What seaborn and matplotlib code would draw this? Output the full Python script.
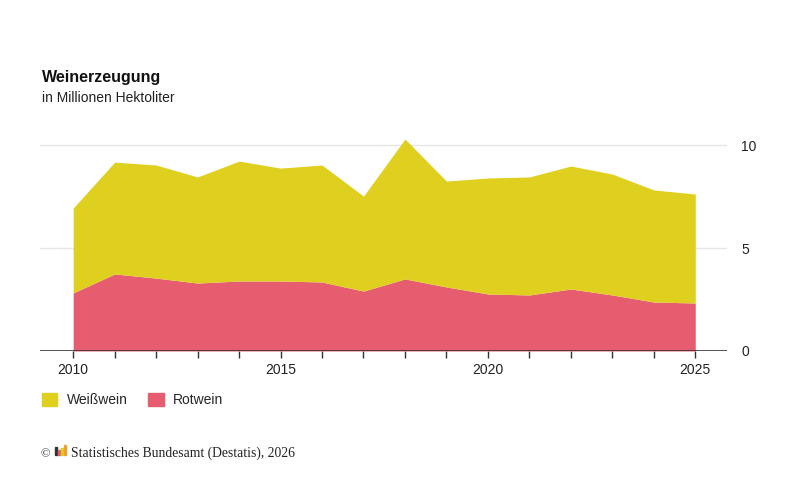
import matplotlib
matplotlib.use('Agg')
import matplotlib.pyplot as plt
import matplotlib.patches as mpatches
import seaborn as sns
import numpy as np

# Wine production in million hectolitres
years = [2010, 2011, 2012, 2013, 2014, 2015, 2016, 2017,
         2018, 2019, 2020, 2021, 2022, 2023, 2024, 2025]
rotwein = [2.82, 3.74, 3.54, 3.30, 3.40, 3.40, 3.35, 2.91,
           3.50, 3.11, 2.77, 2.72, 3.01, 2.72, 2.38, 2.33]
gesamt = [6.94, 9.17, 9.03, 8.45, 9.22, 8.88, 9.03, 7.52,
          10.29, 8.25, 8.40, 8.45, 8.98, 8.59, 7.82, 7.62]
weisswein = [round(g - r, 2) for g, r in zip(gesamt, rotwein)]

series_names = ['Weißwein', 'Rotwein']
x_ticks = [2010, 2015, 2020, 2025]
y_ticks = [0, 5, 10]

yellow = '#DFCF1E'
red = '#E65D70'

sns.set_theme(style='white')
plt.rcParams['font.family'] = ['Liberation Sans', 'DejaVu Sans']

fig = plt.figure(figsize=(8, 5), dpi=100)
ax = fig.add_axes([0.05, 0.298, 0.859, 0.442])

ax.stackplot(years, rotwein, weisswein, colors=[red, yellow], linewidth=0)

ax.set_xlim(2009.2, 2025.77)
ax.set_ylim(0, 10.73)

# gridlines (except the baseline)
for t in y_ticks[1:]:
    ax.axhline(t, color='#e6e6e6', lw=1, zorder=0)
ax.axhline(0, color='#333333', lw=1.2, zorder=3)

ax.set_xticks(years)
ax.set_xticklabels([str(y) if y in x_ticks else '' for y in years])
ax.tick_params(axis='x', length=5, width=1, color='#333333', direction='out',
               labelsize=10, pad=4, colors='#222222', bottom=True)
ax.set_yticks(y_ticks)
ax.yaxis.tick_right()
ax.tick_params(axis='y', length=0, labelsize=10, pad=10, colors='#222222')

for s in ax.spines.values():
    s.set_visible(False)
ax.grid(False)

fig.text(0.052, 0.836, 'Weinerzeugung', fontsize=11.5, fontweight='bold', color='#111111')
fig.text(0.052, 0.796, 'in Millionen Hektoliter', fontsize=10, color='#222222')

handles = [mpatches.Patch(color=yellow, label=series_names[0]),
           mpatches.Patch(color=red, label=series_names[1])]
fig.legend(handles=handles, loc='upper left', bbox_to_anchor=(0.052, 0.215),
           ncol=2, frameon=False, fontsize=10, handlelength=1.1, handleheight=1.1,
           handletextpad=0.7, columnspacing=1.5, borderaxespad=0, borderpad=0)

# footer with small logo
fig.text(0.051, 0.086, '©', fontsize=9, family=['Liberation Serif', 'DejaVu Serif'], color='#222222')
logo_cols = ['#333333', '#E65D70', '#DFCF1E', '#F0A030']
logo_h = [0.016, 0.010, 0.013, 0.020]
for i, (c, h) in enumerate(zip(logo_cols, logo_h)):
    fig.patches.append(mpatches.Rectangle((0.069 + i * 0.0035, 0.091), 0.0025, h,
                                          transform=fig.transFigure, color=c))
fig.text(0.089, 0.086, 'Statistisches Bundesamt (Destatis), 2026', fontsize=9.8,
         family=['Liberation Serif', 'DejaVu Serif'], color='#222222')

fig.savefig('out.png', dpi=100, facecolor='white')
